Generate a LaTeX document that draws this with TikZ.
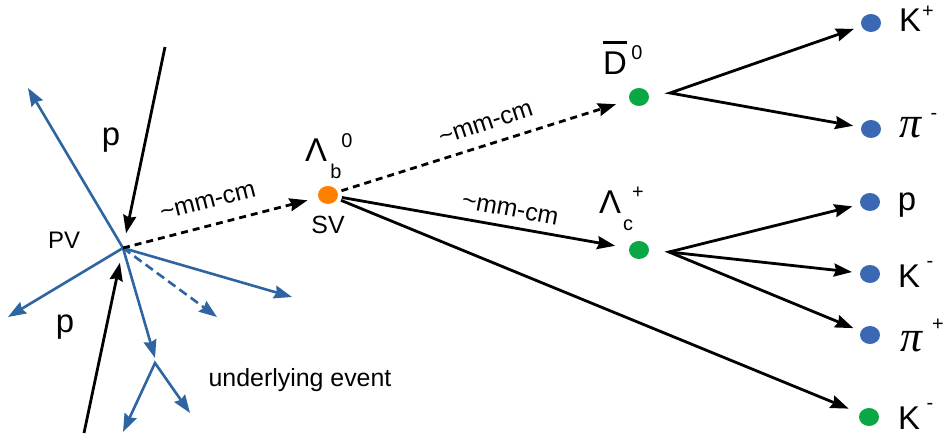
\documentclass[tikz,border=0pt]{standalone}
\usepackage{fontspec}
\setmainfont{Liberation Sans}
\newfontfamily\piface{Liberation Serif}
\usetikzlibrary{arrows.meta,shapes.geometric}

\definecolor{trk}{HTML}{2E64A2}
\definecolor{dotblue}{HTML}{3A68B3}
\definecolor{dotgreen}{HTML}{0AA845}
\definecolor{dotorange}{HTML}{FF8000}

\tikzset{
  >={Stealth[length=18bp,width=13bp,inset=2bp]},
  arr/.style={line width=2.8bp, ->},
  blarr/.style={line width=2.6bp, draw=trk, ->},
  dsh/.style={dash pattern=on 7bp off 5bp},
  bldsh/.style={dash pattern=on 9bp off 5bp},
  dot/.style={ellipse, minimum width=20bp, minimum height=18bp, inner sep=0pt, draw=none},
  big/.style={font=\fontsize{33}{33}\selectfont, inner sep=0pt},
  pilab/.style={font=\fontsize{44}{44}\selectfont\piface\itshape, inner sep=0pt},
  sup/.style={font=\fontsize{20}{20}\selectfont, inner sep=0pt},
  lab/.style={font=\fontsize{25}{25}\selectfont, inner sep=0pt},
  small/.style={font=\fontsize{24}{24}\selectfont, inner sep=0pt},
}

\begin{document}
\begin{tikzpicture}[x=1bp, y=-1bp]
\path[use as bounding box] (0,0) rectangle (945,441);

% vertices
\coordinate (pv) at (123,248);
\coordinate (pa) at (165,47);
\coordinate (pb) at (84,433);
\node[dot, fill=dotorange] (sv) at (328,195) {};
\node[dot, fill=dotgreen] (d0) at (639,97) {};
\node[dot, fill=dotgreen] (lc) at (639,250) {};
\coordinate (d0v) at (670,93);
\coordinate (lcv) at (669,252);

% final-state particles
\node[dot, fill=dotblue]  (fk1)  at (871,23)  {};
\node[dot, fill=dotblue]  (fpi1) at (871,129) {};
\node[dot, fill=dotblue]  (fp)   at (870,202) {};
\node[dot, fill=dotblue]  (fk2)  at (870,274) {};
\node[dot, fill=dotblue]  (fpi2) at (870,335) {};
\node[dot, fill=dotgreen] (fk3)  at (869,417) {};

% underlying-event track ends
\coordinate (t1) at (28,88);
\coordinate (t2) at (8,317);
\coordinate (t3) at (292,297);
\coordinate (t4) at (217,317);
\coordinate (t5) at (155,358);
\coordinate (ue) at (155,363);
\coordinate (t6) at (123,432);
\coordinate (t7) at (190,413);

% underlying event
\draw[blarr] (pv) -- (t1);
\draw[blarr] (pv) -- (t2);
\draw[blarr] (pv) -- (t3);
\draw[blarr, bldsh] (pv) -- (t4);
\draw[blarr] (pv) -- (t5);
\draw[blarr, <->] (t6) -- (ue) -- (t7);

% incoming protons
\draw[arr, shorten >=15bp] (pa) -- (pv);
\draw[arr, shorten >=15bp] (pb) -- (pv);

% flight of the Lambda_b and its decay
\draw[arr, dsh, shorten >=11bp] (pv) -- (sv);
\draw[arr, dsh, shorten <=4bp, shorten >=14bp] (sv) -- (d0);
\draw[arr, shorten <=4bp, shorten >=14bp] (sv) -- (lc);
\draw[arr, shorten <=4bp, shorten >=12bp] (sv) -- (fk3);

% D0 and Lambda_c decays
\draw[line width=2.8bp, <->, shorten <=8bp, shorten >=8bp] (fk1) -- (d0v) -- (fpi1);
\draw[line width=2.8bp, <->, shorten <=8bp, shorten >=8bp] (fp) -- (lcv) -- (fpi2);
\draw[arr, shorten >=8bp] (lcv) -- (fk2);

% labels
\node[big] (p1) at (111,140) {p};
\node[big] (p2) at (65,327) {p};
\node[small] (pvl) at (64,240) {PV};
\node[lab] (svl) at (328,225) {SV};
\node[lab] (uel) at (300,380) {underlying event};
\node[lab, rotate=14.4] (fl1) at (208,202) {\textasciitilde mm-cm};
\node[lab, rotate=18.3] (fl2) at (486,124) {\textasciitilde mm-cm};
\node[lab, rotate=-10.8] (fl3) at (510,210) {\textasciitilde mm-cm};

\node[big] (lbL) at (316,150) {Λ};
\node[sup] (lbb) at (336,171) {b};
\node[sup] (lb0) at (347,141) {0};

\node[big] (dD) at (615,63) {D};
\draw[line width=2.5bp] ([yshift=9bp]dD.north west) -- ([yshift=9bp]dD.north east);
\node[sup] (dD0) at (637,53) {0};

\node[big] (lcL) at (610,202) {Λ};
\node[sup] (lcc) at (628,225) {c};
\node[sup] (lcp) at (638,193) {+};

\node[big] (fk1L) at (910,20) {K};
\node[sup] (fk1s) at (928,12) {+};
\node[pilab] (fpi1L) at (910,128) {π};
\node[sup] (fpi1s) at (934,116) {-};
\node[big] (fpL) at (907,205) {p};
\node[big] (fk2L) at (909,276) {K};
\node[sup] (fk2s) at (930,264) {-};
\node[pilab] (fpi2L) at (911,342) {π};
\node[sup] (fpi2s) at (938,325) {+};
\node[big] (fk3L) at (909,418) {K};
\node[sup] (fk3s) at (930,406) {-};
\end{tikzpicture}
\end{document}
